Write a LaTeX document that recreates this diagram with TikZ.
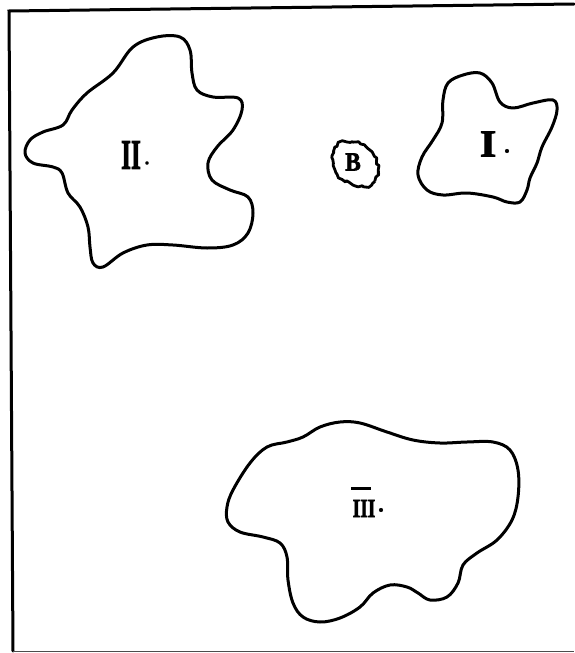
\documentclass[tikz,border=0pt]{standalone}
\usepackage{fontspec}
\newfontfamily\heavyfont[FakeBold=2.5]{Liberation Serif Bold}
\usetikzlibrary{decorations.pathmorphing}
\begin{document}
\begin{tikzpicture}[x=1pt,y=-1pt,
  blob/.style={line width=3pt, line join=round},
  framel/.style={line width=3pt, line cap=round},
  numeral/.style={inner sep=0pt}]
\useasboundingbox (0,0) rectangle (574,653);
% frame
\coordinate (tl) at (9,11);
\coordinate (tr) at (574,4);
\coordinate (bl) at (13,651);
\coordinate (br) at (574,651);
\draw[framel] (tr) -- (tl) -- (bl);
\draw[line width=1pt, black!70] (bl) -- (br);
% blob II
\draw[blob] plot[smooth cycle, tension=0.6] coordinates {
 (133,47) (157,37) (180,37) (190,50) (192,73) (197,90) (213,97) (238,98)
 (242,110) (233,130) (217,147) (208,163) (212,180) (230,190) (248,197)
 (253,213) (248,233) (233,245) (207,248) (173,245) (147,245) (123,253)
 (103,267) (93,263) (90,247) (88,227) (80,207) (68,193) (62,173) (53,167)
 (33,163) (25,153) (30,140) (43,132) (63,125) (72,110) (87,93) (113,73)};
\node[numeral, font=\fontsize{42}{42}\heavyfont, xscale=0.6] (n2) at (131,155) {II};
\node[numeral, font=\fontsize{18}{18}\heavyfont] (d2) at (147,163) {.};
% blob I
\draw[blob] plot[smooth cycle, tension=0.6] coordinates {
 (448,83) (463,75) (480,73) (492,83) (500,102) (513,108) (533,103) (553,100)
 (557,110) (552,127) (542,147) (537,163) (530,178) (527,190) (520,202)
 (507,202) (493,197) (467,193) (443,195) (427,190) (418,175) (422,157)
 (433,140) (442,123) (443,100)};
\node[numeral, font=\fontsize{38}{38}\heavyfont, xscale=1.1, yscale=1.0] (n1) at (488,144) {I};
\node[numeral, font=\fontsize{22}{22}\heavyfont] (d1) at (507,151) {.};
% blob B
\draw[line width=2.8pt, line join=round, decorate,
  decoration={random steps, segment length=3pt, amplitude=1.7pt}]
  (355,164) ellipse [x radius=26pt, y radius=20pt, rotate=-40];
\node[numeral, font=\fontsize{26}{26}\heavyfont, xscale=0.9] (b) at (353,162) {B};
% blob III
\draw[blob] plot[smooth cycle, tension=0.6] coordinates {
 (233,490) (250,463) (267,447) (287,442) (303,437) (320,427) (340,422)
 (360,423) (387,432) (413,440) (440,443) (467,442) (493,442) (510,450)
 (518,470) (518,497) (512,520) (497,540) (477,553) (463,565) (458,583)
 (447,597) (430,600) (418,593) (407,587) (390,585) (373,593) (360,607)
 (340,618) (320,622) (303,617) (293,603) (288,580) (287,557) (280,543)
 (263,537) (240,532) (228,522) (227,507)};
\node[numeral, font=\fontsize{26}{26}\heavyfont, xscale=0.75, anchor=base] (n3) at (364,517)
  {\makebox[0pt][l]{\hspace*{-2pt}\raisebox{27pt}{\rule{26pt}{3.5pt}}}III};
\node[numeral, font=\fontsize{22}{22}\heavyfont] (d3) at (381,510) {.};
\end{tikzpicture}
\end{document}
